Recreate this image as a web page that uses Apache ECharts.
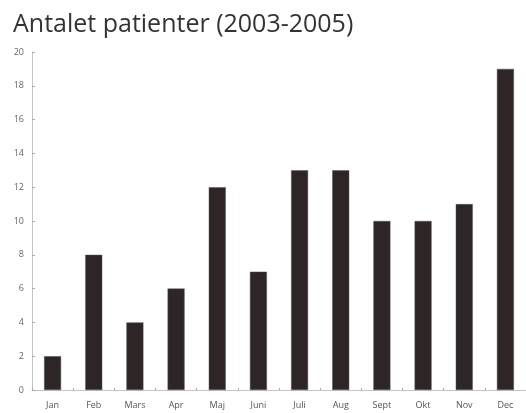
<!DOCTYPE html>
<html><head><meta charset="utf-8">
<script src="https://cdn.jsdelivr.net/npm/echarts@6/dist/echarts.min.js"></script>
<style>html,body{margin:0;padding:0;background:#fff;}#c{width:526px;height:413px;}</style>
</head><body><div id="c"></div>
<script>
const titleText = 'Antalet patienter (2003-2005)';
const months = ['Jan','Feb','Mars','Apr','Maj','Juni','Juli','Aug','Sept','Okt','Nov','Dec'];
const patients = [2, 8, 4, 6, 12, 7, 13, 13, 10, 10, 11, 19];
const yTicks = [0, 2, 4, 6, 8, 10, 12, 14, 16, 18, 20];

const chart = echarts.init(document.getElementById('c'), null, {renderer:'canvas'});
chart.setOption({
  animation: false,
  title: {
    text: titleText, left: 8, top: 7,
    textStyle: {fontFamily: 'Open Sans', fontWeight: 'normal', fontSize: 25, color: '#333'}
  },
  grid: {left: 32, top: 52, width: 498, height: 338, containLabel: false},
  xAxis: {
    type: 'category', data: months,
    axisLine: {lineStyle: {color: '#c4c4c4', width: 1}},
    axisTick: {show: true, inside: true, length: 2, lineStyle: {color: '#aaa'}},
    axisLabel: {fontFamily: 'Open Sans', fontSize: 9, color: '#555', margin: 11}
  },
  yAxis: {
    type: 'value', min: yTicks[0], max: yTicks[yTicks.length-1], interval: 2,
    axisLine: {show: true, lineStyle: {color: '#c4c4c4', width: 1}},
    axisTick: {show: true, inside: true, length: 3, lineStyle: {color: '#aaa'}},
    splitLine: {show: false},
    axisLabel: {fontFamily: 'Open Sans', fontSize: 9, color: '#666', margin: 8}
  },
  series: [{
    type: 'bar', data: patients, barWidth: 17,
    itemStyle: {color: '#2e2527', borderColor: '#555', borderWidth: 0.5}
  }]
});
</script></body></html>
